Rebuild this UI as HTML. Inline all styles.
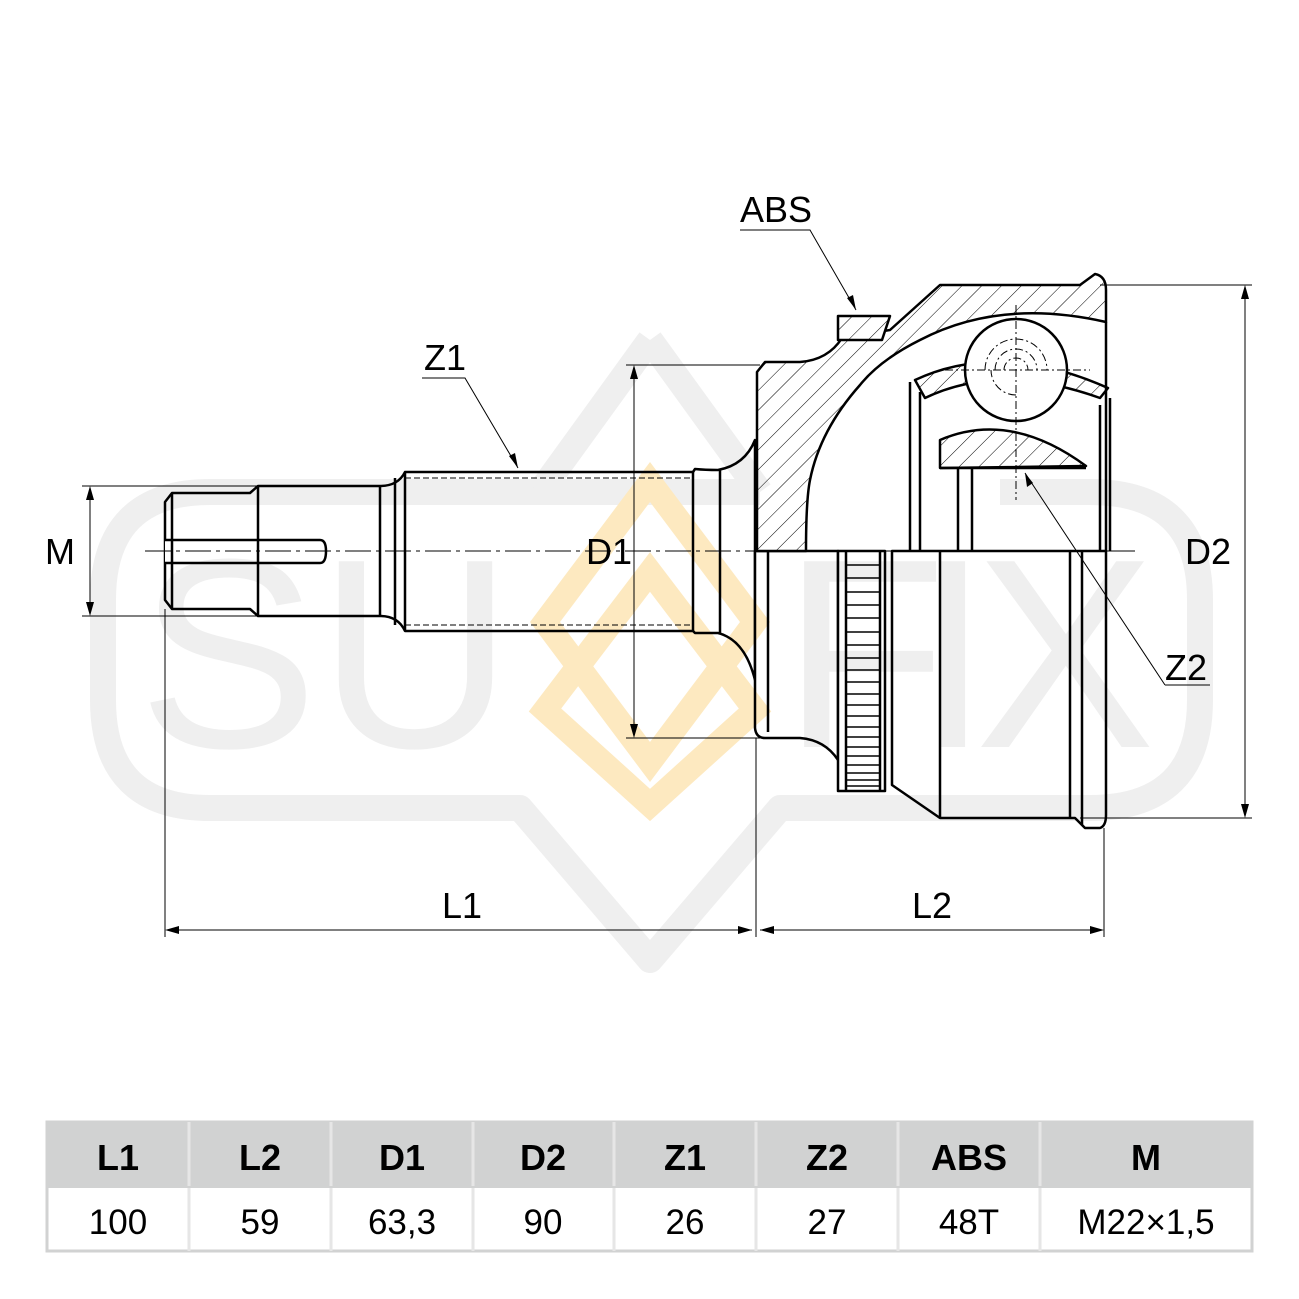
<!DOCTYPE html>
<html><head><meta charset="utf-8"><style>
html,body{margin:0;padding:0;background:#fff}
svg{display:block}
text{font-family:"Liberation Sans",sans-serif}
</style></head><body>
<svg width="1299" height="1299" viewBox="0 0 1299 1299" xmlns="http://www.w3.org/2000/svg">
<defs>
<pattern id="h" patternUnits="userSpaceOnUse" width="14" height="14" patternTransform="rotate(45)">
<rect width="14" height="14" fill="#fff"/><line x1="0" y1="0" x2="0" y2="14" stroke="#000" stroke-width="1"/>
</pattern>
</defs>
<rect width="1299" height="1299" fill="#fff"/>
<!-- centerline -->
<line x1="145" y1="551" x2="1135" y2="551" stroke="#000" stroke-width="1" stroke-dasharray="26,5,4,5"/>
<!-- shaft -->
<g fill="#fff" stroke="#000" stroke-width="2.5" stroke-linejoin="round">
<path d="M172,493 H250 L258,486 H380 Q398,486 405,472 H693 L695,469 Q705,470 718,470 Q745,465 755,440 V680 Q745,640 718,633 H695 L693,631 H405 Q398,616 380,616 H258 L250,609 H172 L165,600 V502 Z"/>
<path d="M165,540 H320 Q326,540 326,551 Q326,563 320,563 H165" />
<line x1="172" y1="493" x2="172" y2="609"/><line x1="258" y1="486" x2="258" y2="616"/>
<line x1="380" y1="486" x2="380" y2="616"/><line x1="395" y1="478" x2="395" y2="625"/>
<line x1="405" y1="472" x2="405" y2="631"/><line x1="693" y1="472" x2="693" y2="631"/>
<line x1="720" y1="470" x2="720" y2="633"/>
</g>
<line x1="405" y1="478" x2="693" y2="478" stroke="#000" stroke-dasharray="6,3"/>
<line x1="405" y1="625" x2="693" y2="625" stroke="#000" stroke-dasharray="6,3"/>
<line x1="145" y1="551" x2="760" y2="551" stroke="#000" stroke-width="1" stroke-dasharray="26,5,4,5"/>
<!-- housing lower (external) -->
<g fill="#fff" stroke="#000" stroke-width="2.5" stroke-linejoin="round">
<path d="M755,551 V728 Q756,738 765,738 H800 Q825,740 838,760 V551 Z"/>
<path d="M892,551 V785 L940,818 H1075 L1085,828 H1100 Q1106,826 1106,815 V551 Z"/>
<rect x="838" y="551" width="47" height="240"/>
<line x1="768" y1="551" x2="768" y2="732"/>
<line x1="940" y1="551" x2="940" y2="818"/>
<line x1="1070" y1="551" x2="1070" y2="818"/>
<line x1="1082" y1="551" x2="1082" y2="825"/>
<line x1="846" y1="551" x2="846" y2="791"/><line x1="880" y1="551" x2="880" y2="791"/>
</g>
<g stroke="#000" stroke-width="1.5">
<path d="M846,565H880M846,578H880M846,592H880M846,605H880M846,618H880M846,632H880M846,645H880M846,658H880M846,670H880M846,682H880M846,694H880M846,705H880M846,716H880M846,727H880M846,737H880M846,747H880M846,756H880M846,765H880M846,773H880M846,780H880M846,786H880"/>
</g>
<!-- housing upper (section) -->
<g stroke="#000" stroke-width="2.5" stroke-linejoin="round">
<path fill="url(#h)" d="M757,551 V372 L765,362 H800 Q828,360 842,338 L890,330 L940,285 H1080 L1095,274 Q1106,276 1106,290 V322 Q1000,298 920,340 Q880,360 860,385 Q820,430 810,480 Q806,500 806,551 Z"/>
<path fill="url(#h)" d="M838,340 V316 H890 L882,340 Z"/>
<path fill="url(#h)" d="M915,380 Q1000,340 1108,388 L1100,398 Q1000,362 925,398 Z"/>
<path fill="url(#h)" d="M940,468 V440 Q1010,410 1086,466 Z"/>
<path fill="none" d="M910,382 V551 M920,392 V551 M1110,398 V551 M1100,405 V551" />
<circle cx="1016" cy="370" r="51" fill="#fff"/>
<line x1="940" y1="468" x2="1086" y2="468"/>
<path fill="none" d="M958,468 V551 M972,468 V551 M1106,322 V551"/>
</g>
<line x1="806" y1="551" x2="1135" y2="551" stroke="#000" stroke-width="1" stroke-dasharray="26,5,4,5"/>
<g stroke="#000" stroke-width="1" fill="none" stroke-dasharray="8,3,2,3">
<line x1="1016" y1="305" x2="1016" y2="500"/><line x1="945" y1="370" x2="1090" y2="370"/>
<path d="M985,370 A31,31 0 0 1 1047,370 M995,370 A21,21 0 0 1 1037,370 M1004,370 A12,12 0 0 1 1028,370 M1016,395 A25,25 0 0 1 991,370"/>
</g>
<!-- dimension lines -->
<g stroke="#000" stroke-width="1" fill="none">
<line x1="82" y1="486" x2="258" y2="486"/><line x1="82" y1="616" x2="258" y2="616"/>
<line x1="90" y1="490" x2="90" y2="612"/>
<line x1="626" y1="365" x2="760" y2="365"/><line x1="626" y1="738" x2="760" y2="738"/>
<line x1="634" y1="369" x2="634" y2="734"/>
<line x1="1100" y1="285" x2="1252" y2="285"/><line x1="1080" y1="818" x2="1252" y2="818"/>
<line x1="1245" y1="289" x2="1245" y2="814"/>
<line x1="165" y1="609" x2="165" y2="937"/><line x1="756" y1="738" x2="756" y2="937"/><line x1="1104" y1="828" x2="1104" y2="937"/>
<line x1="169" y1="930" x2="752" y2="930"/><line x1="760" y1="930" x2="1100" y2="930"/>
<path d="M422,378 H465 L518,468"/>
<path d="M740,230 H810 L856,310"/>
<path d="M1165,685 H1210 M1165,685 L1025,473"/>
</g>
<g fill="#000">
<path d="M90,486 L86,500 L94,500Z M90,616 L86,602 L94,602Z"/>
<path d="M634,365 L630,379 L638,379Z M634,738 L630,724 L638,724Z"/>
<path d="M1245,285 L1241,299 L1249,299Z M1245,818 L1241,804 L1249,804Z"/>
<path d="M165,930 L179,926 L179,934Z M752,930 L738,926 L738,934Z M760,930 L774,926 L774,934Z M1104,930 L1090,926 L1090,934Z"/>
<path d="M518,468 L509,456 L515,453Z M856,310 L847,298 L853,295Z M1025,473 L1027,487 L1033,483Z"/>
</g>
<g font-size="36" fill="#000">
<text x="45" y="564">M</text>
<text x="586" y="564">D1</text>
<text x="1185" y="564">D2</text>
<text x="424" y="370">Z1</text>
<text x="740" y="222">ABS</text>
<text x="1165" y="680">Z2</text>
<text x="442" y="918">L1</text>
<text x="912" y="918">L2</text>
</g>
<!-- watermark (multiply over drawing) -->
<g style="mix-blend-mode:multiply">
<g fill="none" stroke="#efefef" stroke-width="26" stroke-linejoin="round">
<path d="M760,492 H210 Q103,492 103,600 V700 Q103,808 210,808 H520 L650,960 L780,808 H1090 Q1200,808 1200,700 V600 Q1200,492 1090,492 H1000"/>
<path d="M650,340 L540,492 M650,340 L760,492"/>
</g>
<g font-size="270" fill="#efefef">
<text x="138" y="747">S</text><text x="318" y="747">U</text>
<text x="782" y="747">F</text><text x="915" y="747">I</text><text x="975" y="747">X</text>
</g>
<g fill="none" stroke="#fde9c0" stroke-width="24">
<path d="M650,482 L545,622 L650,762 L755,622 Z"/>
<path d="M650,572 L545,710 L650,805 L755,710 Z"/>
</g>
</g>
<!-- table -->
<rect x="47" y="1122" width="1205" height="65" fill="#d1d2d2"/>
<rect x="47" y="1122" width="1205" height="129" fill="none" stroke="#d1d2d2" stroke-width="3"/>
<g stroke="#e6e6e6" stroke-width="3">
<path d="M189,1122V1251M331,1122V1251M473,1122V1251M614,1122V1251M756,1122V1251M898,1122V1251M1040,1122V1251"/>
</g>
<line x1="47" y1="1187" x2="1252" y2="1187" stroke="#d1d2d2" stroke-width="2"/>
<g font-size="36" font-weight="bold" text-anchor="middle" fill="#000">
<text x="118" y="1170">L1</text><text x="260" y="1170">L2</text><text x="402" y="1170">D1</text><text x="543" y="1170">D2</text>
<text x="685" y="1170">Z1</text><text x="827" y="1170">Z2</text><text x="969" y="1170">ABS</text><text x="1146" y="1170">M</text>
</g>
<g font-size="35" text-anchor="middle" fill="#000">
<text x="118" y="1234">100</text><text x="260" y="1234">59</text><text x="402" y="1234">63,3</text><text x="543" y="1234">90</text>
<text x="685" y="1234">26</text><text x="827" y="1234">27</text><text x="969" y="1234">48T</text><text x="1146" y="1234">M22×1,5</text>
</g>
</svg>
</body></html>
